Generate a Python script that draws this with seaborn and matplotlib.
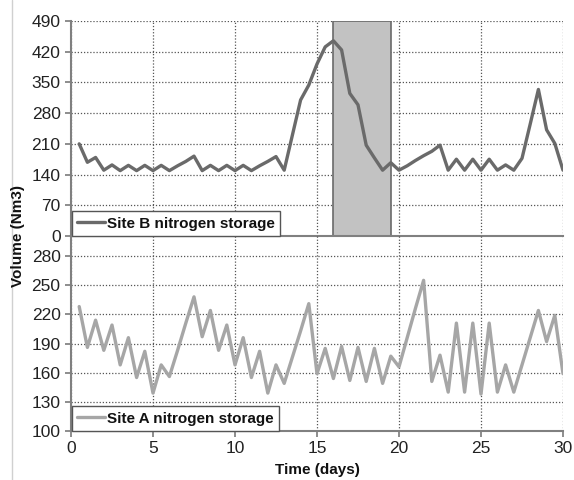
import numpy as np
import pandas as pd
import matplotlib
matplotlib.use("Agg")
import matplotlib.pyplot as plt
import seaborn as sns

days = [0.5, 1.0, 1.5, 2.0, 2.5, 3.0, 3.5, 4.0, 4.5, 5.0,
        5.5, 6.0, 6.5, 7.0, 7.5, 8.0, 8.5, 9.0, 9.5, 10.0,
        10.5, 11.0, 11.5, 12.0, 12.5, 13.0, 13.5, 14.0, 14.5, 15.0,
        15.5, 16.0, 16.5, 17.0, 17.5, 18.0, 18.5, 19.0, 19.5, 20.0,
        20.5, 21.0, 21.5, 22.0, 22.5, 23.0, 23.5, 24.0, 24.5, 25.0,
        25.5, 26.0, 26.5, 27.0, 27.5, 28.0, 28.5, 29.0, 29.5, 30.0]

site_b = [210, 168, 179, 150, 162, 149, 161, 149, 161, 149,
          161, 149, 160, 170, 182, 149, 161, 149, 161, 149,
          161, 149, 160, 170, 181, 150, 230, 310, 344, 392,
          431, 445, 424, 325, 299, 207, 178, 150, 167, 150,
          160, 172, 183, 193, 207, 150, 175, 150, 175, 150,
          175, 150, 162, 150, 177, 255, 334, 242, 211, 150]

site_a = [228, 186, 214, 183, 209, 168, 196, 155, 182, 139,
          168, 156, 183, 211, 238, 197, 224, 183, 209, 168,
          196, 155, 182, 139, 168, 149, 176, 203, 231, 159,
          185, 154, 187, 152, 186, 151, 185, 149, 177, 166,
          196, 226, 255, 151, 178, 140, 211, 140, 211, 138,
          211, 140, 168, 140, 168, 196, 224, 192, 219, 159]

x_ticks = [0, 5, 10, 15, 20, 25, 30]
b_ticks = [0, 70, 140, 210, 280, 350, 420, 490]
a_ticks = [100, 130, 160, 190, 220, 250, 280]
shade_start, shade_end = 16, 19.5

label_b = "Site B nitrogen storage"
label_a = "Site A nitrogen storage"

sns.set_theme(style="white")
plt.rcParams['font.family'] = ['Liberation Sans', 'DejaVu Sans']

df_b = pd.DataFrame({"day": days, "vol": site_b, "series": label_b})
df_a = pd.DataFrame({"day": days, "vol": site_a, "series": label_a})

fig = plt.figure(figsize=(5.74, 4.8), dpi=100)
left, right = 71 / 574, 563 / 574
ax_b = fig.add_axes([left, 1 - 236 / 480, right - left, 215 / 480])
ax_a = fig.add_axes([left, 1 - 431 / 480, right - left, 195 / 480])

col_b = "#6a6a6a"
col_a = "#a6a6a6"
grid_kw = dict(color="#555555", linestyle=(0, (1, 1.5)), linewidth=0.9)

for ax in (ax_b, ax_a):
    ax.set_xlim(0, 30)
    ax.set_xticks(x_ticks)
    ax.grid(True, **grid_kw)
    ax.set_axisbelow(True)
    for s in ("top", "right"):
        ax.spines[s].set_visible(False)
    for s in ("left", "bottom"):
        ax.spines[s].set_color("#808080")
        ax.spines[s].set_linewidth(1.5)
    ax.tick_params(axis="both", which="both", length=4, color="#808080",
                   labelsize=12.5, labelcolor="#222222", direction="out", left=True, bottom=True)
    ax.patch.set_alpha(0)

ax_b.axvspan(shade_start, shade_end, facecolor="#c2c2c2", edgecolor="#6a6a6a", linewidth=1.2, zorder=1)
sns.lineplot(data=df_b, x="day", y="vol", ax=ax_b, color=col_b, linewidth=2.4, label=label_b, zorder=3)
ax_b.set_ylim(0, 490)
ax_b.set_yticks(b_ticks)
ax_b.tick_params(axis="x", labelbottom=False, length=0)
ax_b.set_xlabel("")
ax_b.set_ylabel("")

sns.lineplot(data=df_a, x="day", y="vol", ax=ax_a, color=col_a, linewidth=2.4, label=label_a, zorder=3)
ax_a.set_ylim(100, 300.6)
ax_a.set_yticks(a_ticks)
ax_a.set_xlabel("")
ax_a.set_ylabel("")

for ax in (ax_b, ax_a):
    leg = ax.legend(loc="lower left", bbox_to_anchor=(0.002, 0.0), borderaxespad=0,
                    frameon=True, fancybox=False, handlelength=1.8, handletextpad=0.15,
                    borderpad=0.35, prop={"weight": "bold", "size": 11})
    leg.get_frame().set_edgecolor("#555555")
    leg.get_frame().set_linewidth(1.0)
    leg.get_frame().set_facecolor("white")
    leg.get_frame().set_alpha(1)
    for t in leg.get_texts():
        t.set_color("#111111")

fig.text(18 / 574, 1 - 236 / 480, "Volume (Nm3)", rotation=90, ha="center", va="center",
         fontsize=11, fontweight="bold", color="#111111")
fig.text(317 / 574, 1 - 470 / 480, "Time (days)", ha="center", va="center",
         fontsize=11, fontweight="bold", color="#111111")
fig.add_artist(plt.Line2D([12 / 574, 12 / 574], [0, 1], color="#d0d0d0", linewidth=1.0))

fig.savefig("out.png", dpi=100)
